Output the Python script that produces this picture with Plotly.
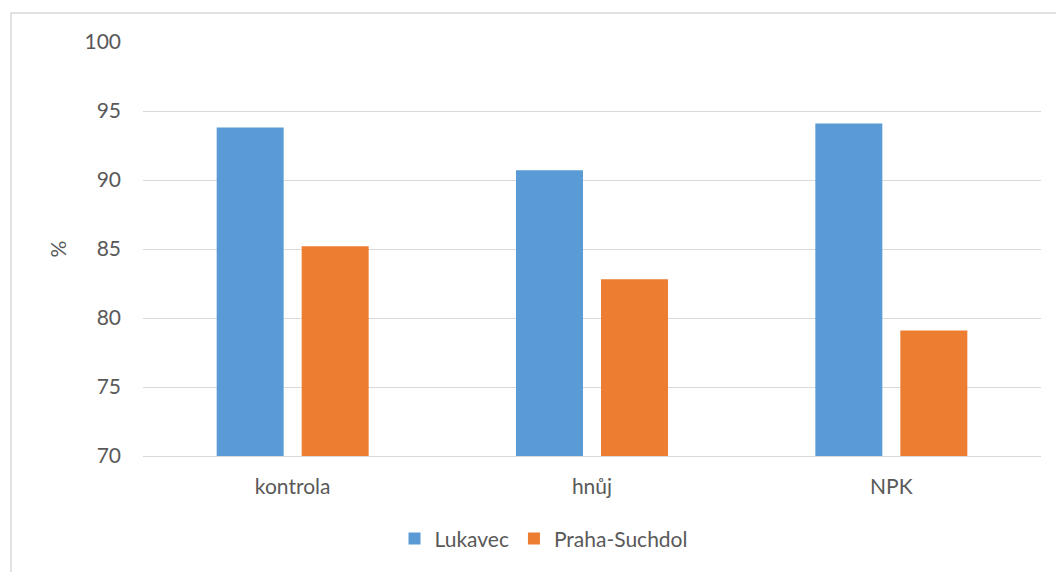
import plotly.graph_objects as go

categories = ["kontrola", "hnůj", "NPK"]
lukavec = [93.8, 90.7, 94.1]
praha_suchdol = [85.2, 82.8, 79.1]
y_ticks = [70, 75, 80, 85, 90, 95, 100]

TEXT = "#595959"
FONT = "Lato, 'Open Sans', sans-serif"
SIZE = 21

fig = go.Figure()
fig.add_trace(go.Bar(name="Lukavec", x=categories, y=lukavec,
                     marker=dict(color="#5B9BD5", line=dict(width=0))))
fig.add_trace(go.Bar(name="Praha-Suchdol", x=categories, y=praha_suchdol,
                     marker=dict(color="#ED7D31", line=dict(width=0))))

fig.update_layout(
    width=1056, height=572,
    margin=dict(l=143, r=15, t=42, b=115.5, autoexpand=False),
    paper_bgcolor="white", plot_bgcolor="white",
    barmode="group", bargap=0.432, bargroupgap=0.212,
    font=dict(family=FONT, size=SIZE, color=TEXT),
    showlegend=True,
    legend=dict(orientation="h", x=0.446, xanchor="center", y=-0.2, yanchor="middle",
                font=dict(size=SIZE, color=TEXT), itemwidth=30, traceorder="normal"),
    xaxis=dict(showgrid=False, showline=True, linecolor="#D9D9D9", linewidth=1,
               ticks="", ticklabelstandoff=12, tickfont=dict(size=SIZE, color=TEXT)),
    yaxis=dict(range=[70, 100], tickvals=y_ticks, showgrid=True, gridcolor="#D9D9D9",
               gridwidth=1, zeroline=False, showline=False, ticks="",
               ticklabelstandoff=21, tickfont=dict(size=SIZE, color=TEXT),
               title=dict(text="%", font=dict(size=SIZE, color=TEXT), standoff=12)),
    shapes=[dict(type="rect", xref="paper", yref="paper",
                 x0=-0.147, x1=1.05, y0=-0.5, y1=1.07,
                 line=dict(color="#D9D9D9", width=1.5), layer="below")],
)

fig.write_html("out.html")
